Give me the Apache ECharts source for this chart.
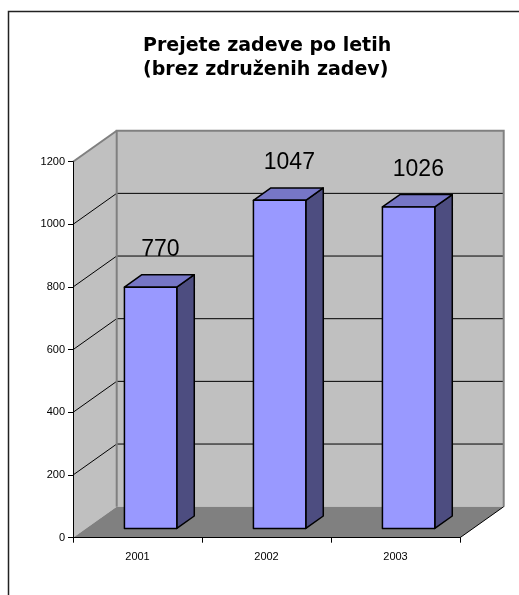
<!DOCTYPE html>
<html>
<head>
<meta charset="utf-8">
<script src="https://cdn.jsdelivr.net/npm/echarts@6/dist/echarts.min.js"></script>
<style>
  html, body { margin: 0; padding: 0; background: #ffffff; }
  #chart { width: 519px; height: 595px; }
</style>
</head>
<body>
<div id="chart"></div>
<script>
// ---- data ----
const categories = ['2001', '2002', '2003'];
const values = [770, 1047, 1026];
const yTicks = [0, 200, 400, 600, 800, 1000, 1200];
const titleLines = ['Prejete zadeve po letih', '(brez združenih zadev)'];

// ---- style constants ----
const DX = 43.7, DY = -31;           // depth offset of the 3D box
const BAR_FRONT = 0.3, BAR_BACK = 0.7; // bar depth within box
const BAR_WIDTH = 0.406;             // fraction of category band
const FONT = '"Liberation Sans", Arial, sans-serif';

const chart = echarts.init(document.getElementById('chart'), null, { renderer: 'canvas' });

function renderWalls(params, api) {
  const cs = params.coordSys;
  const x0 = cs.x, x1 = cs.x + cs.width, yTop = cs.y, yBot = cs.y + cs.height;
  const yMax = yTicks[yTicks.length - 1];
  const children = [];
  children.push({ type: 'rect', shape: { x: x0 + DX, y: yTop + DY, width: cs.width, height: cs.height },
    style: { fill: '#C0C0C0' } });
  children.push({ type: 'polygon', shape: { points: [[x0, yTop], [x0 + DX, yTop + DY], [x0 + DX, yBot + DY], [x0, yBot]] },
    style: { fill: '#C0C0C0' } });
  children.push({ type: 'polygon', shape: { points: [[x0, yBot], [x0 + DX, yBot + DY], [x1 + DX, yBot + DY], [x1, yBot]] },
    style: { fill: '#808080' } });
  yTicks.forEach(function (v) {
    if (v === 0 || v === yMax) return;
    const y = api.coord([0, v])[1];
    children.push({ type: 'line', shape: { x1: x0, y1: y, x2: x0 + DX, y2: y + DY },
      style: { stroke: '#000', lineWidth: 1 } });
    children.push({ type: 'line', shape: { x1: x0 + DX, y1: y + DY, x2: x1 + DX, y2: y + DY },
      style: { stroke: '#000', lineWidth: 1 } });
  });
  children.push({ type: 'polyline', shape: { points: [[x0 + DX, yBot + DY], [x0 + DX, yTop + DY], [x1 + DX, yTop + DY], [x1 + DX, yBot + DY]] },
    style: { stroke: '#808080', lineWidth: 2, fill: null } });
  children.push({ type: 'line', shape: { x1: x0, y1: yTop, x2: x0 + DX, y2: yTop + DY },
    style: { stroke: '#808080', lineWidth: 2 } });
  children.push({ type: 'line', shape: { x1: x1, y1: yBot, x2: x1 + DX, y2: yBot + DY },
    style: { stroke: '#000', lineWidth: 1 } });
  return { type: 'group', children: children };
}

function renderBar(params, api) {
  const idx = api.value(0), v = api.value(1);
  const top = api.coord([idx, v]);
  const base = api.coord([idx, 0]);
  const band = api.size([1, 0])[0];
  const w = band * BAR_WIDTH;
  const xl = top[0] - w / 2 + BAR_FRONT * DX, xr = xl + w;
  const yt = top[1] + BAR_FRONT * DY, yb = base[1] + BAR_FRONT * DY;
  const ddx = (BAR_BACK - BAR_FRONT) * DX, ddy = (BAR_BACK - BAR_FRONT) * DY;
  const edge = { stroke: '#000', lineWidth: 1.5, lineJoin: 'round' };
  return {
    type: 'group',
    children: [
      { type: 'polygon', shape: { points: [[xr, yt], [xr + ddx, yt + ddy], [xr + ddx, yb + ddy], [xr, yb]] },
        style: Object.assign({ fill: '#4D4D80' }, edge) },
      { type: 'polygon', shape: { points: [[xl, yt], [xl + ddx, yt + ddy], [xr + ddx, yt + ddy], [xr, yt]] },
        style: Object.assign({ fill: '#7676C6' }, edge) },
      { type: 'rect', shape: { x: xl, y: yt, width: w, height: yb - yt },
        style: Object.assign({ fill: '#9999FF' }, edge) },
      { type: 'text', x: top[0] + 0.5 * DX + 1, y: top[1] + BAR_BACK * DY - 25,
        style: { text: String(v), fill: '#000', font: '23px ' + FONT, align: 'center', verticalAlign: 'middle' } }
    ]
  };
}

const option = {
  backgroundColor: '#ffffff',
  animation: false,
  title: {
    text: titleLines.join('\n'),
    left: 138,
    top: 29,
    textStyle: { fontFamily: '"DejaVu Sans", sans-serif', fontWeight: 'bold', fontSize: 19, lineHeight: 24, color: '#000' },
    textAlign: 'left'
  },
  graphic: [
    { type: 'rect', shape: { x: 8.5, y: 11.5, width: 700, height: 800 },
      style: { fill: null, stroke: '#222', lineWidth: 1.5 }, z: 100, silent: true }
  ],
  grid: { left: 73, right: 59, top: 161.7, bottom: 57.3, outerBoundsMode: 'none' },
  xAxis: {
    type: 'category',
    data: categories,
    boundaryGap: true,
    axisLine: { lineStyle: { color: '#000', width: 1 } },
    axisTick: { show: true, length: 5, inside: false, lineStyle: { color: '#000' } },
    axisLabel: { fontFamily: FONT, fontSize: 11, color: '#000', margin: 14 },
    splitLine: { show: false },
    z: 5
  },
  yAxis: {
    type: 'value',
    min: 0, max: 1200, interval: 200,
    axisLine: { show: true, lineStyle: { color: '#000', width: 1 } },
    axisTick: { show: true, length: 5, inside: false, lineStyle: { color: '#000' } },
    axisLabel: { fontFamily: FONT, fontSize: 11, color: '#000', margin: 8,
      formatter: function (v) { return String(v); } },
    splitLine: { show: false },
    z: 5
  },
  series: [
    { type: 'custom', name: 'walls', coordinateSystem: 'cartesian2d', data: [[0, 0]],
      renderItem: renderWalls, clip: false, silent: true, z: -1 },
    { type: 'custom', name: 'Prejete zadeve', coordinateSystem: 'cartesian2d',
      data: values.map(function (v, i) { return [i, v]; }),
      encode: { x: 0, y: 1 }, renderItem: renderBar, clip: false, z: 3 }
  ]
};
chart.setOption(option);
</script>
</body>
</html>
